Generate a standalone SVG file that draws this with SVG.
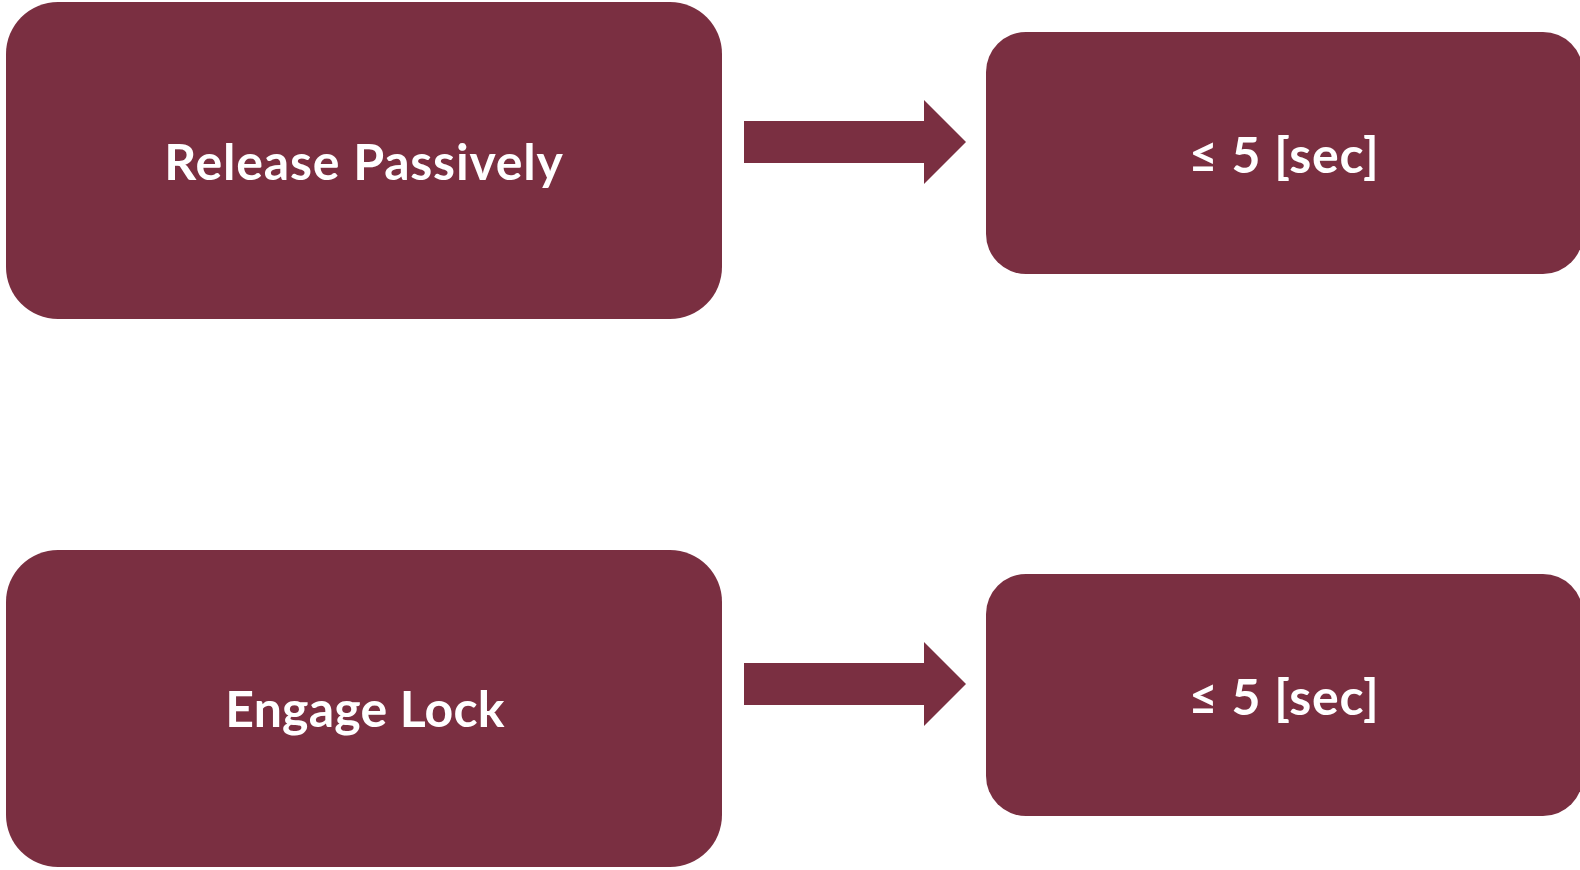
<svg xmlns="http://www.w3.org/2000/svg" width="1580" height="870" viewBox="0 0 1580 870">
  <style>
    .box { fill: #7A2F41; }
    .arrow { fill: #7A2F41; }
    .label { fill: #FFFFFF; font-family: Lato, "Open Sans", "Liberation Sans", sans-serif; font-weight: bold; font-size: 50px; letter-spacing: 0.8px; text-anchor: middle; }
    .narrow { letter-spacing: 0.2px; }
  </style>
  <rect width="1580" height="870" fill="#FFFFFF"/>

  <g id="release-passively">
    <rect class="box" x="6" y="2" width="716" height="317" rx="52" ry="52"/>
    <text class="label" x="364" y="180">Release Passively</text>
  </g>

  <g id="release-time">
    <rect class="box" x="986" y="32" width="597" height="242" rx="40" ry="40"/>
    <text class="label" x="1284" y="173">≤ 5 [sec]</text>
  </g>

  <g id="engage-lock">
    <rect class="box" x="6" y="550" width="716" height="317" rx="52" ry="52"/>
    <text class="label narrow" x="365" y="727">Engage Lock</text>
  </g>

  <g id="engage-time">
    <rect class="box" x="986" y="574" width="597" height="242" rx="40" ry="40"/>
    <text class="label" x="1284" y="715">≤ 5 [sec]</text>
  </g>

  <g id="connectors">
    <polygon class="arrow" points="744,121 924,121 924,100 966,142 924,184 924,163 744,163"/>
    <polygon class="arrow" points="744,663 924,663 924,642 966,684 924,726 924,705 744,705"/>
  </g>
</svg>
